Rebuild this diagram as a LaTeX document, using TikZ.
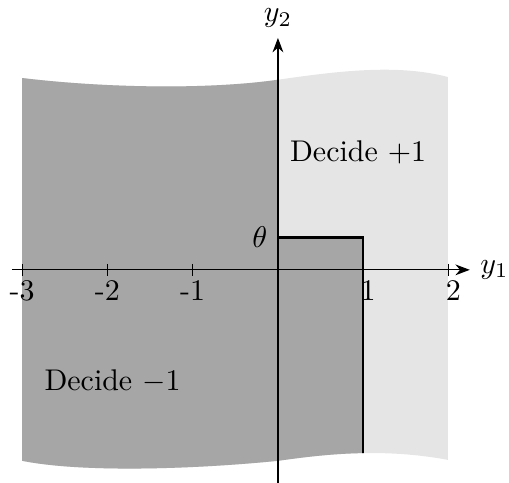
\documentclass[tikz,border=0pt]{standalone}
\usepackage{tikz}
\usetikzlibrary{arrows.meta}
\definecolor{decidedark}{gray}{0.65}
\definecolor{decidelight}{gray}{0.9}

\begin{document}
\begin{tikzpicture}[
    axis/.style={-{Stealth}, draw=black},
    border/.style={thick, draw=black},
    tickmark/.style={draw=black}
]
\useasboundingbox (-3.26,-2.497) rectangle (2.71,3.165);
\def\th{0.38}

\begin{scope}
\clip (-3,2.25) .. controls (-2,2.13) and (-0.8,2.115) .. (0,2.23)
  .. controls (0.7,2.33) and (1.4,2.42) .. (2,2.26) -- (2,-2.23)
  .. controls (1.2,-2.08) and (0.5,-2.17) .. (0,-2.24)
  .. controls (-1,-2.34) and (-2.3,-2.38) .. (-3,-2.24) -- cycle;
\fill[decidelight] (-3,-3) rectangle (2,3);
\fill[decidedark] (-3,3) -- (0,3) -- (0,\th) -- (1,\th) -- (1,-3) -- (-3,-3) -- cycle;
\draw[border] (0,3) -- (0,\th) -- (1,\th) -- (1,-3);
\end{scope}

\draw[axis] (-3.12,0) -- (2.25,0) node[right] (yone) {$y_1$};
\draw[axis] (0,-2.5) -- (0,2.72) node[above] (ytwo) {$y_2$};
\foreach \x/\lab in {-3/-3, -2/-2, -1/-1, 1/\phantom{-}1, 2/\phantom{-}2} {
  \draw[tickmark] (\x,0.07) -- (\x,-0.07);
  \node[below] (tick\x) at (\x,0) {\lab};
}

\node[left] (theta) at (0,\th) {$\theta$};
\node (plusone) at (0.94,1.38) {Decide $+1$};
\node (minusone) at (-1.94,-1.31) {Decide $-1$};
\end{tikzpicture}
\end{document}
